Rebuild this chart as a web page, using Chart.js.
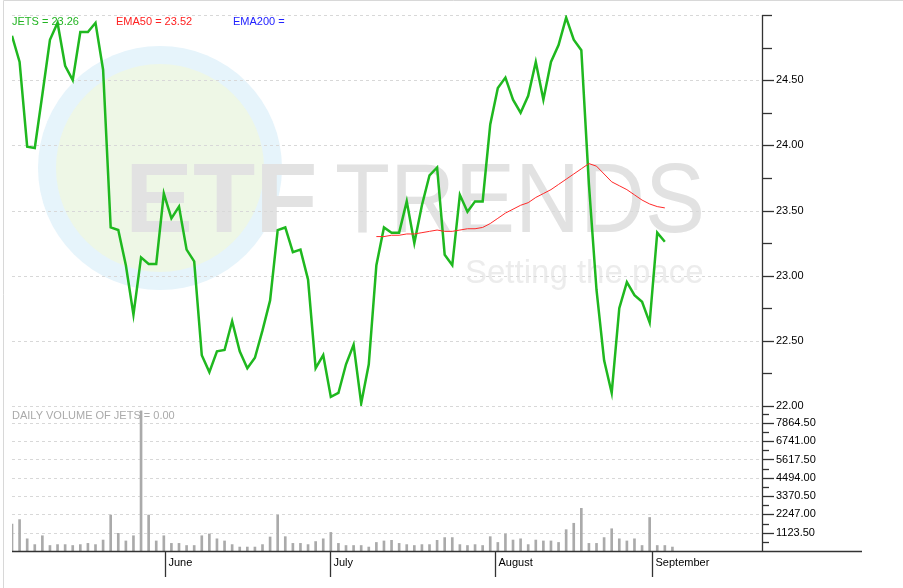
<!DOCTYPE html>
<html><head><meta charset="utf-8">
<script src="https://cdn.jsdelivr.net/npm/chart.js@4.4.0/dist/chart.umd.min.js"></script>
<style>
html,body{margin:0;padding:0;background:#fff;}
#wrap{position:relative;width:903px;height:588px;}
canvas{position:absolute;left:0;top:0;}
</style></head><body>
<div id="wrap"><canvas id="p" width="903" height="588"></canvas><canvas id="v" width="903" height="588"></canvas></div>
<script>
const jetsPrice=[24.84,24.64,23.99,23.98,24.39,24.81,24.94,24.61,24.50,24.87,24.87,24.94,24.58,23.37,23.35,23.08,22.70,23.14,23.09,23.09,23.63,23.44,23.53,23.20,23.11,22.39,22.26,22.42,22.43,22.65,22.42,22.29,22.37,22.58,22.81,23.35,23.37,23.18,23.20,22.97,22.29,22.39,22.07,22.10,22.32,22.47,22.02,22.32,23.08,23.37,23.33,23.33,23.57,23.25,23.54,23.77,23.83,23.16,23.08,23.62,23.49,23.57,23.57,24.16,24.44,24.52,24.35,24.25,24.38,24.64,24.35,24.64,24.77,24.98,24.81,24.73,23.70,22.89,22.35,22.10,22.75,22.95,22.85,22.80,22.64,23.33,23.26];
const ema50Start=48;
const ema50=[23.30,23.30,23.31,23.31,23.32,23.32,23.33,23.34,23.35,23.34,23.34,23.35,23.36,23.36,23.37,23.40,23.44,23.48,23.51,23.54,23.56,23.60,23.63,23.66,23.70,23.74,23.78,23.82,23.86,23.84,23.78,23.72,23.69,23.66,23.62,23.58,23.55,23.53,23.52];
const volume=[1646,1927,748,393,936,337,393,393,337,393,468,393,673,2207,1085,617,936,8600,2207,617,936,468,468,337,337,936,1047,748,617,393,243,243,243,393,860,2207,880,468,468,393,580,748,1140,468,337,337,337,243,524,617,655,468,393,337,393,393,655,823,823,393,337,393,337,880,524,1047,673,748,393,673,617,617,524,1309,1702,2618,468,468,823,1366,748,617,748,337,2057,337,337,243];
const priceTicks=[22.00,22.50,23.00,23.50,24.00,24.50];
const volTicks=[1123.5,2247,3370.5,4494,5617.5,6741,7864.5];
const monthLabels=['June','July','August','September'];
const monthPos=[20.15,41.9,63.6,84.3];
const XMAX=98.8;

const FONT='11px "Liberation Sans", Arial, sans-serif';
function dashedH(ctx,x1,x2,y){ctx.save();ctx.strokeStyle='#d8d8d8';ctx.lineWidth=1;ctx.setLineDash([3,3]);ctx.beginPath();ctx.moveTo(x1,Math.round(y)+0.5);ctx.lineTo(x2,Math.round(y)+0.5);ctx.stroke();ctx.restore();}

const pricePlugin={id:'pp',
 beforeDraw(c){const ctx=c.ctx;ctx.save();
  ctx.fillStyle='#fff';ctx.fillRect(0,0,903,588);
  ctx.strokeStyle='#d8d8d8';ctx.lineWidth=1;ctx.beginPath();ctx.moveTo(3.5,588);ctx.lineTo(3.5,0.5);ctx.lineTo(903,0.5);ctx.stroke();
  ctx.beginPath();ctx.arc(160,168,122,0,Math.PI*2);ctx.fillStyle='#e6f4fb';ctx.fill();
  ctx.beginPath();ctx.arc(160,168,104,0,Math.PI*2);ctx.fillStyle='#eef7e6';ctx.fill();
  ctx.fillStyle='#e2e2e2';ctx.font='bold 98px "Liberation Sans", Arial, sans-serif';ctx.textBaseline='alphabetic';
  ctx.save();ctx.translate(125,232);ctx.scale(1.04,1);ctx.fillText('ETF',0,0);ctx.restore();
  ctx.font='98px "Liberation Sans", Arial, sans-serif';ctx.fillText('TRENDS',335,232,370);
  ctx.fillStyle='#ececec';ctx.font='33px "Liberation Sans", Arial, sans-serif';ctx.fillText('Setting the pace',465,283);
  const y=c.scales.y;const a=c.chartArea;
  dashedH(ctx,a.left,a.right,y.getPixelForValue(25));
  priceTicks.forEach(t=>dashedH(ctx,a.left,a.right,y.getPixelForValue(t)));
  ctx.restore();},
 afterDraw(c){const ctx=c.ctx;const y=c.scales.y;const a=c.chartArea;ctx.save();
  ctx.strokeStyle='#333';ctx.lineWidth=1.3;ctx.beginPath();ctx.moveTo(a.right+0.5,a.top);ctx.lineTo(a.right+0.5,a.bottom);ctx.stroke();
  ctx.font=FONT;ctx.fillStyle='#000';ctx.textBaseline='middle';
  for(let v=22;v<=25.001;v+=0.25){const py=Math.round(y.getPixelForValue(v))+0.5;const major=Math.abs(v*2-Math.round(v*2))<1e-6;
   ctx.beginPath();ctx.moveTo(a.right,py);ctx.lineTo(a.right+(major&&v<25?12:10),py);ctx.stroke();}
  priceTicks.forEach(t=>{ctx.fillText(t.toFixed(2),a.right+14,y.getPixelForValue(t));});
  ctx.fillStyle='#22b422';ctx.fillText('JETS = '+jetsPrice[jetsPrice.length-1].toFixed(2),12,22);
  ctx.fillStyle='#ff2020';ctx.fillText('EMA50 = '+ema50[ema50.length-1].toFixed(2),116,22);
  ctx.fillStyle='#2222ff';ctx.fillText('EMA200 =',233,22);
  ctx.restore();}
};
new Chart(document.getElementById('p'),{type:'line',
 data:{datasets:[
  {data:ema50.map((v,i)=>({x:i+ema50Start,y:v})),borderColor:'#ff2a2a',borderWidth:1,pointRadius:0,tension:0},
  {data:jetsPrice.map((v,i)=>({x:i,y:v})),borderColor:'#1fb81f',borderWidth:2.5,pointRadius:0,tension:0}]},
 options:{responsive:false,animation:false,events:[],layout:{padding:{left:12,right:141,top:15,bottom:182}},
  plugins:{legend:{display:false},tooltip:{enabled:false}},
  scales:{x:{type:'linear',min:0,max:XMAX,display:false},y:{min:22,max:25,display:false}}},
 plugins:[pricePlugin]});

const volPlugin={id:'vp',
 beforeDatasetsDraw(c){const ctx=c.ctx;const y=c.scales.y;const a=c.chartArea;
  volTicks.forEach(t=>dashedH(ctx,a.left,a.right,y.getPixelForValue(t)));
  ctx.save();ctx.fillStyle='#aaa';ctx.font=FONT;ctx.textBaseline='middle';ctx.fillText('DAILY VOLUME OF JETS = 0.00',12,416);ctx.restore();},
 afterDraw(c){const ctx=c.ctx;const y=c.scales.y;const x=c.scales.x;const a=c.chartArea;ctx.save();
  ctx.strokeStyle='#333';ctx.lineWidth=1.3;
  ctx.beginPath();ctx.moveTo(a.right+0.5,a.top);ctx.lineTo(a.right+0.5,a.bottom);ctx.stroke();
  ctx.beginPath();ctx.moveTo(12,Math.round(a.bottom)+0.5);ctx.lineTo(862,Math.round(a.bottom)+0.5);ctx.stroke();
  ctx.font=FONT;ctx.fillStyle='#000';ctx.textBaseline='middle';
  for(let k=1;k<=15;k++){const v=k*561.75;const py=Math.round(y.getPixelForValue(v))+0.5;if(py<a.top)break;
   ctx.beginPath();ctx.moveTo(a.right,py);ctx.lineTo(a.right+(k%2==0?12:7),py);ctx.stroke();}
  volTicks.forEach(t=>ctx.fillText(t.toFixed(2),a.right+14,y.getPixelForValue(t)));
  ctx.textBaseline='top';
  monthPos.forEach((m,i)=>{const px=Math.round(x.getPixelForValue(m))+0.5;ctx.beginPath();ctx.moveTo(px,a.bottom);ctx.lineTo(px,a.bottom+26);ctx.stroke();
   ctx.fillText(monthLabels[i],px+3,a.bottom+6);});
  ctx.restore();}
};
new Chart(document.getElementById('v'),{type:'bar',
 data:{datasets:[{data:volume.map((v,i)=>({x:i,y:v})),backgroundColor:'#aaaaaa',barThickness:2}]},
 options:{responsive:false,animation:false,events:[],layout:{padding:{left:12,right:141,top:406,bottom:37}},
  plugins:{legend:{display:false},tooltip:{enabled:false}},
  scales:{x:{type:'linear',min:0,max:XMAX,display:false,offset:false},y:{min:0,max:8900,display:false}}},
 plugins:[volPlugin]});
</script></body></html>
